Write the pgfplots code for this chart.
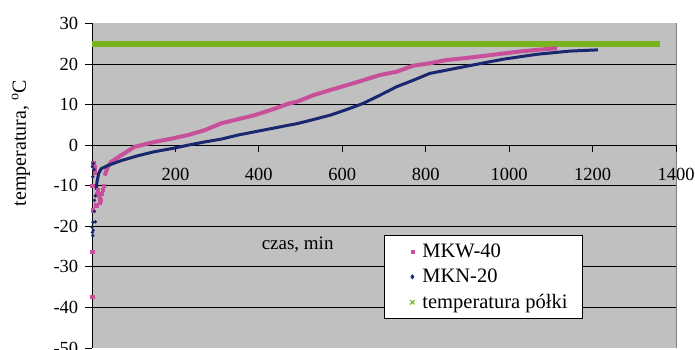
\documentclass[border=0pt]{standalone}
\usepackage{fontspec}
\setmainfont{Liberation Serif}
\usepackage{pgfplots}
\pgfplotsset{compat=1.18}
\definecolor{pinkc}{RGB}{200,80,155}
\definecolor{navyc}{RGB}{25,40,110}
\definecolor{greenc}{RGB}{120,180,30}
\definecolor{bgc}{RGB}{192,192,192}

\pgfplotstableread{
x y
0 -37.4
1 -26.3
2 -16
1 -10
3 -4.5
5 -5.5
6 -6.6
10 -14.8
12 -12
14 -11
16 -12.5
18 -12.8
18 -14.2
20 -13.5
22 -12
26 -11
28 -10
}\pinkscatter

\pgfplotstableread{
x y
30 -7.5
38 -5.4
46 -4.1
70 -2.5
102 -0.4
150 0.8
190 1.6
230 2.5
270 3.7
310 5.4
350 6.4
390 7.4
438 9.0
470 10.2
491 10.7
530 12.3
571 13.6
611 14.8
650 16.0
690 17.3
730 18.1
770 19.6
810 20.2
850 21.0
906 21.6
946 22.1
986 22.6
1026 23.1
1066 23.5
1115 23.9
}\pinkmain

\pgfplotstableread{
x y
0 -20.2
1 -21.5
2 -22.3
3 -21
2 -19
6 -16.3
8 -18.9
6 -13.6
8 -12.5
2 -7.8
1 -5.3
3 -4.5
5 -6
}\navyscatter

\pgfplotstableread{
x y
10 -11.0
12 -9.0
16 -7.0
22 -5.8
38 -5.0
70 -3.8
110 -2.6
150 -1.6
198 -0.7
230 0.0
270 0.8
310 1.5
350 2.5
390 3.3
430 4.1
470 4.9
491 5.3
530 6.3
571 7.4
611 8.8
650 10.3
690 12.3
730 14.4
770 16.0
810 17.7
850 18.5
890 19.3
930 20.1
986 21.2
1026 21.8
1066 22.4
1106 22.8
1146 23.2
1213 23.5
}\navymain

\pgfplotstableread{
x y
0 25
100 25
200 25
300 25
400 25
500 25
600 25
700 25
800 25
900 25
1000 25
1100 25
1200 25
1300 25
1362 25
}\shelf

\begin{document}
\begin{tikzpicture}[font=\fontsize{18.5}{22}\selectfont]
\begin{axis}[
 scale only axis, width=584pt, height=324.5pt,
 xmin=0, xmax=1400, ymin=-50, ymax=30,
 axis x line=middle, axis y line=left,
 axis line style={-, black, line width=0.8pt},
 axis background/.style={fill=bgc},
 xtick={0,200,...,1400}, xticklabels={0,200,400,600,800,1000,1200,1400},
 ytick={-40,-30,...,20}, yticklabels={-40,-30,-20,-10,0,10,20},
 extra y ticks={-50,30}, extra y tick labels={-50,30},
 extra y tick style={grid=none},
 ymajorgrids, grid style={black, line width=0.8pt},
 tick style={black, line width=0.8pt},
 tick align=center, major tick length=6.5pt,
 x tick style={yshift=-3.25pt},
 y tick style={xshift=-3.25pt},
 xticklabel style={anchor=north, yshift=-16pt, font=\fontsize{18.5}{22}\selectfont},
 yticklabel style={anchor=east, xshift=-7pt, font=\fontsize{18.5}{22}\selectfont},
 clip=false,
 legend style={at={(axis cs:700,-22.2)}, anchor=north west, draw=black, line width=0.8pt, fill=white,
   font=\fontsize{20.5}{24}\selectfont, legend cell align=left, inner xsep=13pt, inner ysep=6.5pt, row sep=6pt},
 legend image code/.code={\path[draw=none, fill=none] (-15pt,0pt) -- (8pt,0pt); \draw[#1] plot coordinates {(0pt,0pt)};},
]
\coordinate (bl) at (rel axis cs:0,0);
\draw[gray, line width=0.8pt] (rel axis cs:1,0) -- (rel axis cs:1,1);
\pgfplotsinvokeforeach{200,400,600,800,1000,1200,1400}{\draw[black, line width=0.8pt] (axis cs:#1,0) -- ++(0pt,-6.5pt);}
\addplot[forget plot, color=greenc, line width=6pt] table {\shelf};
\addplot[forget plot, only marks, mark=square*, mark size=1.8pt, color=pinkc] table {\pinkscatter};
\addplot[forget plot, color=pinkc, line width=4pt, line join=round] table {\pinkmain};
\addplot[forget plot, only marks, mark=*, mark size=1.5pt, color=navyc] table {\navyscatter};
\addplot[forget plot, color=navyc, line width=3pt, line join=round] table {\navymain};
\addlegendimage{only marks, mark=square*, mark size=1.5pt, color=pinkc}
\addlegendentry{MKW-40}
\addlegendimage{only marks, mark=diamond*, mark size=2pt, color=navyc}
\addlegendentry{MKN-20}
\addlegendimage{only marks, mark=x, mark size=3pt, line width=1.2pt, color=greenc}
\addlegendentry{temperatura półki}
\node[font=\fontsize{19}{23}\selectfont] at (axis cs:493,-24.5) {czas, min};
\node[rotate=90, font=\fontsize{20}{24}\selectfont] at ([xshift=-71pt]axis cs:0,0.5) {temperatura, \textsuperscript{o}C};
\end{axis}
\pgfresetboundingbox
\path[use as bounding box] (bl) ++(-92pt,-2pt) rectangle ++(695pt,350pt);
\end{tikzpicture}
\end{document}
